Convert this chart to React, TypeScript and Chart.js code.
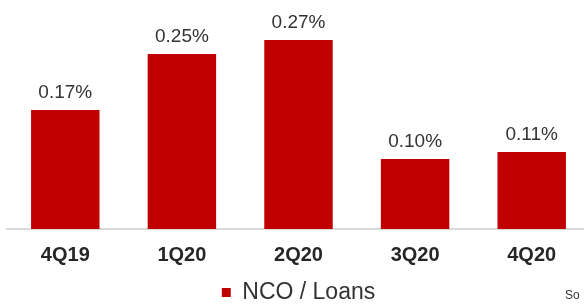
import React, { useEffect, useRef } from "react";
import { Chart, registerables } from "chart.js";

Chart.register(...registerables);

const categories = ["4Q19", "1Q20", "2Q20", "3Q20", "4Q20"];
const ncoLoans = [0.17, 0.25, 0.27, 0.1, 0.11];
const seriesName = "NCO / Loans";
const sourceNote = "So";

const FONT = "'Liberation Sans', Arial, sans-serif";
const RED = "#C00000";

const valueLabels = {
  id: "valueLabels",
  afterDatasetsDraw(chart: any) {
    const ctx = chart.ctx;
    const meta = chart.getDatasetMeta(0);
    ctx.save();
    ctx.font = `19px ${FONT}`;
    ctx.fillStyle = "#333333";
    ctx.textAlign = "center";
    ctx.textBaseline = "alphabetic";
    meta.data.forEach((bar: any, i: number) => {
      const v = chart.data.datasets[0].data[i] as number;
      ctx.fillText(v.toFixed(2) + "%", bar.x, bar.y - 12);
    });
    ctx.font = `12px ${FONT}`;
    ctx.textAlign = "left";
    ctx.fillText(sourceNote, 565, 299);
    ctx.restore();
  },
};

export default function App() {
  const ref = useRef<HTMLCanvasElement>(null);
  useEffect(() => {
    if (!ref.current) return;
    const chart = new Chart(ref.current, {
      type: "bar",
      data: {
        labels: categories,
        datasets: [
          {
            label: seriesName,
            data: ncoLoans,
            backgroundColor: RED,
            borderWidth: 0,
            barPercentage: 0.587,
            categoryPercentage: 1,
          },
        ],
      },
      options: {
        animation: false,
        responsive: false,
        maintainAspectRatio: false,
        layout: { padding: { left: 7, right: 0, top: 19, bottom: 0 } },
        plugins: {
          legend: {
            position: "bottom",
            labels: {
              font: { family: FONT, size: 23 },
              color: "#333333",
              boxWidth: 9,
              boxHeight: 9,
              padding: 10,
            },
          },
          tooltip: { enabled: false },
        },
        scales: {
          x: {
            grid: { display: false, drawTicks: false },
            border: { display: true, color: "#d9d9d9", width: 2 },
            ticks: {
              font: { family: FONT, size: 20, weight: "bold" },
              color: "#262626",
              padding: 14,
            },
            afterFit(scale: any) {
              scale.height = 42;
            },
          },
          y: {
            display: false,
            min: 0,
            max: 0.3,
          },
        },
      },
      plugins: [valueLabels],
    });
    return () => chart.destroy();
  }, []);
  return (
    <div
      style={{
        position: "fixed",
        left: 0,
        top: 0,
        width: 584,
        height: 306,
        overflow: "hidden",
        background: "#fff",
      }}
    >
      <canvas ref={ref} width={590} height={314} style={{ display: "block" }} />
    </div>
  );
}
